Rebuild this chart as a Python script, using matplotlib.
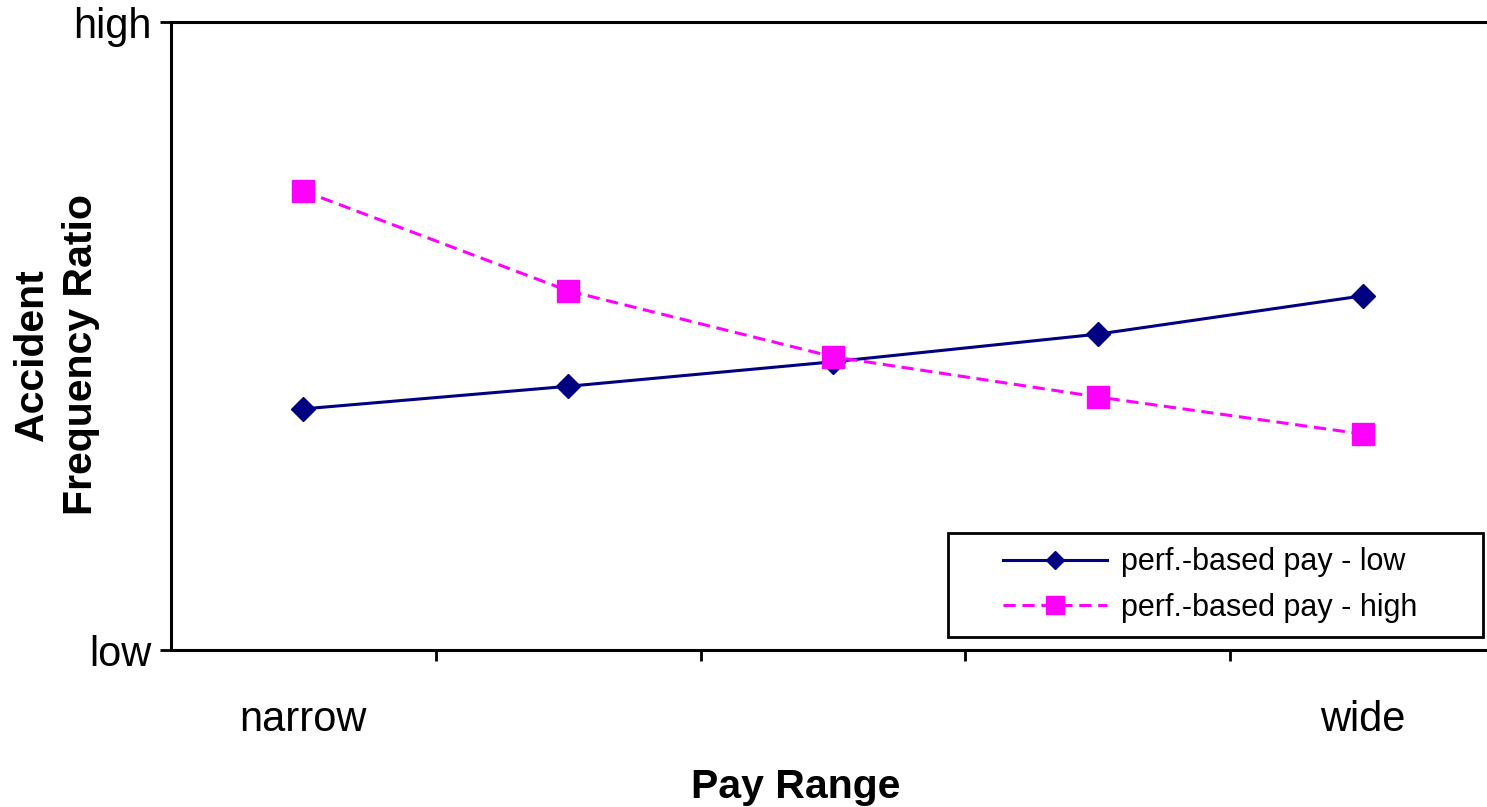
import numpy as np
from matplotlib import pyplot as plt
from matplotlib.patches import Rectangle

plt.rcParams['font.family'] = ['Liberation Sans', 'DejaVu Sans']

CATEGORIES = ['narrow', '', '', '', 'wide']
LOW_PAY = [0.384, 0.420, 0.459, 0.503, 0.564]
HIGH_PAY = [0.731, 0.572, 0.467, 0.403, 0.344]
Y_LABELS = ['low', 'high']

x = np.arange(len(CATEGORIES))

fig = plt.figure(figsize=(14.87, 8.07), dpi=100)
ax = fig.add_axes([0.115, 0.1945, 0.8904, 0.7782])

ax.plot(x, LOW_PAY, color='#000080', lw=2.2, marker='D', markersize=12,
        label='perf.-based pay - low')
ax.plot(x, HIGH_PAY, color='#FF00FF', lw=2.2, marker='s', markersize=15.5,
        dashes=(4, 2.2), label='perf.-based pay - high')

ax.set_xlim(-0.5, len(CATEGORIES) - 0.5)
ax.set_ylim(0, 1)

# boundary ticks between categories, labels only at the ends
ax.set_xticks(x[:-1] + 0.5)
ax.set_xticklabels([])
ax.set_xticks([0, len(CATEGORIES) - 1], minor=True)
ax.set_xticklabels([CATEGORIES[0], CATEGORIES[-1]], minor=True, fontsize=30)
ax.tick_params(axis='x', which='major', direction='out', length=8, width=2)
ax.tick_params(axis='x', which='minor', length=0, pad=36)

ax.set_yticks([0, 1])
ax.set_yticklabels(Y_LABELS, fontsize=30)
ax.tick_params(axis='y', direction='out', length=8, width=2, pad=6)

for side in ['left', 'top', 'bottom']:
    ax.spines[side].set_linewidth(2.2)
ax.spines['right'].set_visible(False)

ax.set_ylabel('Accident\nFrequency Ratio', fontsize=29.5, fontweight='bold',
              multialignment='center', linespacing=1.35)
ax.yaxis.set_label_coords(-0.054, 0.471)
ax.set_xlabel('Pay Range', fontsize=29.5, fontweight='bold')
ax.xaxis.set_label_coords(0.472, -0.188)

# legend frame (Excel style, wide left padding)
ax.add_patch(Rectangle((0.587, 0.021), 0.404, 0.165, transform=ax.transAxes,
                       facecolor='white', edgecolor='black', lw=2, zorder=4))
leg = ax.legend(loc='center', bbox_to_anchor=(0.785, 0.1035), fontsize=22,
                frameon=False, handlelength=3.4, handletextpad=0.45,
                labelspacing=0.5, borderpad=0)
leg.set_zorder(5)
leg.legend_handles[0].set_markersize(8.7)
leg.legend_handles[1].set_markersize(13)

plt.savefig('out.png', dpi=100)
